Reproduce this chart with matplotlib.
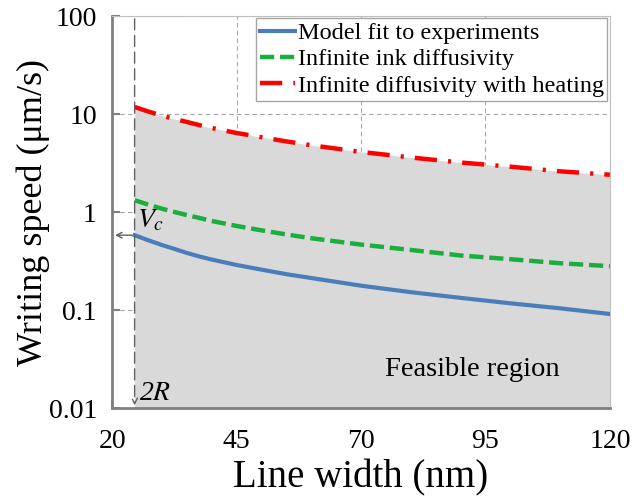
import numpy as np
from matplotlib import pyplot as plt

plt.rcParams['font.family'] = ['Liberation Serif', 'DejaVu Serif']

# data
width_nm = [24.5, 27, 30, 32.5, 35, 37.5, 40, 45, 50, 55, 60, 70, 80, 90, 100, 110, 120]
model_fit = [0.58, 0.52, 0.46, 0.42, 0.382, 0.352, 0.327, 0.288, 0.258, 0.232, 0.212,
             0.177, 0.152, 0.133, 0.117, 0.104, 0.091]
inf_ink = [1.32, 1.2, 1.08, 1.0, 0.93, 0.87, 0.81, 0.72, 0.65, 0.59, 0.54,
           0.465, 0.41, 0.36, 0.33, 0.30, 0.28]
inf_heat = [11.8, 10.7, 9.6, 8.9, 8.3, 7.7, 7.2, 6.4, 5.8, 5.25, 4.8,
            4.1, 3.6, 3.2, 2.9, 2.6, 2.4]
x_ticks = [20, 45, 70, 95, 120]
y_ticks = [0.01, 0.1, 1, 10, 100]
y_labels = ['0.01', '0.1', '1', '10', '100']
two_r = 24.5
v_c = 0.58

fig = plt.figure(figsize=(6.34, 5), dpi=100)
ax = fig.add_axes([0.177, 0.184, 0.785, 0.784])
ax.set_yscale('log')
ax.set_xlim(20, 120)
ax.set_ylim(0.01, 100)

ax.fill_between(width_nm, 0.01, inf_heat, color='#d9d9d9', lw=0, zorder=1)

ax.plot(width_nm, model_fit, color='#4a7ebb', lw=3, label='Model fit to experiments', zorder=3)
ax.plot(width_nm, inf_ink, color='#1aaf3c', lw=3.2, ls=(0, (3.2, 1.3)), label='Infinite ink diffusivity', zorder=3)
ax.plot(width_nm, inf_heat, color='#ff0000', lw=3.2, ls=(0, (5, 2.5, 0.7, 2.5)),
        label='Infinite diffusivity with heating', zorder=3)

ax.grid(True, which='major', color='#a6a6a6', ls=(0, (4, 3)), lw=0.8, zorder=0)
ax.set_axisbelow(True)
ax.minorticks_off()
ax.set_xticks(x_ticks)
ax.set_yticks(y_ticks)
ax.set_yticklabels(y_labels)
ax.tick_params(direction='in', length=6, width=1.5, color='#808080', labelsize=20)
ax.tick_params(axis='x', pad=15)
ax.tick_params(axis='y', pad=11)
for s in ['left', 'bottom']:
    ax.spines[s].set_color('#808080')
    ax.spines[s].set_linewidth(2)
for s in ['top', 'right']:
    ax.spines[s].set_color('#bfbfbf')
    ax.spines[s].set_linewidth(0.8)

ax.set_xlabel('Line width (nm)', fontsize=28, labelpad=4)
ax.set_ylabel('Writing speed (\u03bcm/s)', fontsize=26)
ax.yaxis.set_label_coords(-0.125, 0.5)

# 2R marker and V_c marker
ax.annotate('', xy=(two_r, 0.01), xytext=(two_r, 100),
            arrowprops=dict(arrowstyle='->', color='#606060', lw=1, ls=(0, (8, 4))), zorder=4)
ax.annotate('', xy=(20, v_c), xytext=(two_r, v_c),
            arrowprops=dict(arrowstyle='->', color='#606060', lw=1), zorder=4)
ax.text(two_r + 0.9, 0.0105, '2$R$', fontsize=20, ha='left', va='bottom', style='italic',
        math_fontfamily='stix')
ax.text(two_r + 0.5, 0.6, '$V_c$', fontsize=20, ha='left', va='bottom', math_fontfamily='stix')
ax.text(92.3, 0.025, 'Feasible region', fontsize=20.5, ha='center', va='center')

leg = ax.legend(loc='upper right', fontsize=17.5, handlelength=1.45, borderpad=0.15,
                labelspacing=0.18, handletextpad=0.1, borderaxespad=0.1, fancybox=False)
leg.get_frame().set_edgecolor('#a6a6a6')
leg.get_frame().set_alpha(1)

fig.savefig('out.png', dpi=100)
